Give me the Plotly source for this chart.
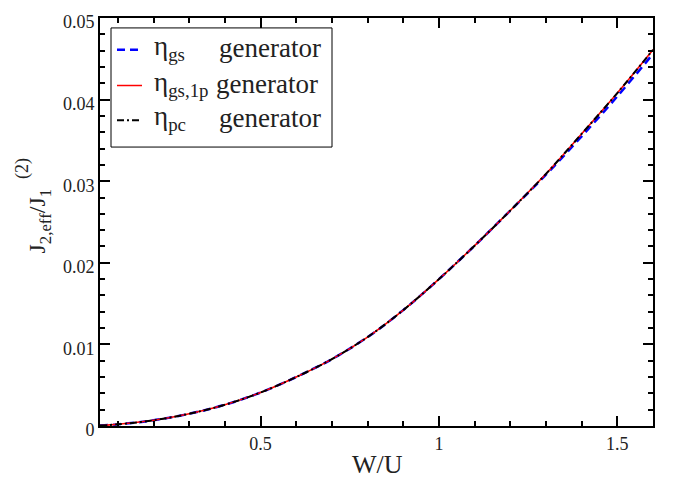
import plotly.graph_objects as go

# W/U grid and effective coupling J_2,eff / J_1^(2) for the three generators
W_U = [0.05, 0.1, 0.2, 0.3, 0.4, 0.5, 0.6, 0.7, 0.8, 0.9,
       1.0, 1.1, 1.2, 1.3, 1.4, 1.5, 1.6]
J_gs = [0.00005, 0.0002, 0.0007, 0.0015, 0.0026, 0.0041, 0.0060, 0.0082, 0.0109, 0.0142,
        0.0180, 0.0221, 0.0264, 0.0308, 0.0355, 0.0404, 0.0456]
J_gs1p = [0.00005, 0.0002, 0.0007, 0.0015, 0.0026, 0.0041, 0.0060, 0.0082, 0.0109, 0.0142,
          0.0180, 0.0221, 0.0264, 0.0309, 0.0358, 0.0408, 0.0461]
J_pc = [0.00005, 0.0002, 0.0007, 0.0015, 0.0026, 0.0041, 0.0060, 0.0082, 0.0109, 0.0142,
        0.0180, 0.0221, 0.0264, 0.0309, 0.0358, 0.0408, 0.0461]

legend_names = ["η<sub>gs</sub>", "η<sub>gs,1p</sub>", "η<sub>pc</sub>"]
legend_suffix = "generator"

W, H = 673, 478
L, R, T, B = 100, 20, 15, 52
PW, PH = W - L - R, H - T - B
FONT = "Liberation Serif"
INK = "#222"


def px(xp):
    return (xp - L) / PW


def py(yp):
    return (H - B - yp) / PH


styles = [
    dict(color="#0000ff", width=2.5, dash="8px,5px"),
    dict(color="#ff0000", width=1.5, dash="solid"),
    dict(color="#000000", width=2.0, dash="7px,3px,2px,3px"),
]
series = [J_gs, J_gs1p, J_pc]

fig = go.Figure()
for ys, st in zip(series, styles):
    fig.add_trace(go.Scatter(
        x=W_U, y=ys, mode="lines", showlegend=False,
        line=dict(color=st["color"], width=st["width"], dash=st["dash"],
                  shape="spline", smoothing=1.0),
        hoverinfo="skip",
    ))

axis_common = dict(
    showline=True, linecolor="black", linewidth=2, mirror="allticks",
    ticks="inside", ticklen=10, tickwidth=1.5, tickcolor="black",
    showgrid=False, zeroline=False,
    tickfont=dict(family=FONT, size=18, color=INK),
)

fig.update_xaxes(
    range=[0.05, 1.6], tick0=0, dtick=0.5,
    minor=dict(dtick=0.1, tick0=0, ticks="inside", ticklen=5, tickwidth=1.5,
               tickcolor="black", showgrid=False),
    **axis_common,
)
fig.update_yaxes(
    range=[0, 0.05], tick0=0, dtick=0.01, ticklabelshift=4,
    minor=dict(dtick=0.002, tick0=0, ticks="inside", ticklen=5, tickwidth=1.5,
               tickcolor="black", showgrid=False),
    **axis_common,
)

shapes = []
annotations = []

# legend frame with line samples and labels
shapes.append(dict(type="rect", xref="paper", yref="paper",
                   x0=px(111), x1=px(332), y0=py(25), y1=py(145),
                   line=dict(color="black", width=1), fillcolor="white"))
rows_y = [47, 83, 118]
for ry, st, name in zip(rows_y, styles, legend_names):
    shapes.append(dict(type="line", xref="paper", yref="paper",
                       x0=px(117), x1=px(142), y0=py(ry), y1=py(ry),
                       line=dict(color=st["color"], width=st["width"], dash=st["dash"])))
    annotations.append(dict(xref="paper", yref="paper", x=px(152), y=py(ry - 2),
                            xanchor="left", yanchor="middle", showarrow=False,
                            text=name, font=dict(family=FONT, size=27, color=INK)))
gen_x = [217, 214, 217]
for ry, gx in zip(rows_y, gen_x):
    annotations.append(dict(xref="paper", yref="paper", x=px(gx), y=py(ry - 2),
                            xanchor="left", yanchor="middle", showarrow=False,
                            text=legend_suffix, font=dict(family=FONT, size=27, color=INK)))

# axis titles
annotations.append(dict(xref="paper", yref="paper", x=px(377), y=py(465),
                        xanchor="center", yanchor="middle", showarrow=False,
                        text="W/U", font=dict(family=FONT, size=26, color=INK)))
annotations.append(dict(xref="paper", yref="paper", x=px(39), y=py(220),
                        xanchor="center", yanchor="middle", showarrow=False, textangle=-90,
                        text="J<sub>2,eff</sub>/J<sub>1</sub>",
                        font=dict(family=FONT, size=24, color=INK)))
annotations.append(dict(xref="paper", yref="paper", x=px(23), y=py(167),
                        xanchor="center", yanchor="middle", showarrow=False, textangle=-90,
                        text="(2)", font=dict(family=FONT, size=18, color=INK)))

fig.update_layout(
    width=W, height=H,
    margin=dict(l=L, r=R, t=T, b=B),
    paper_bgcolor="white", plot_bgcolor="white",
    shapes=shapes, annotations=annotations,
    font=dict(family=FONT),
)

fig.write_html("out.html")
